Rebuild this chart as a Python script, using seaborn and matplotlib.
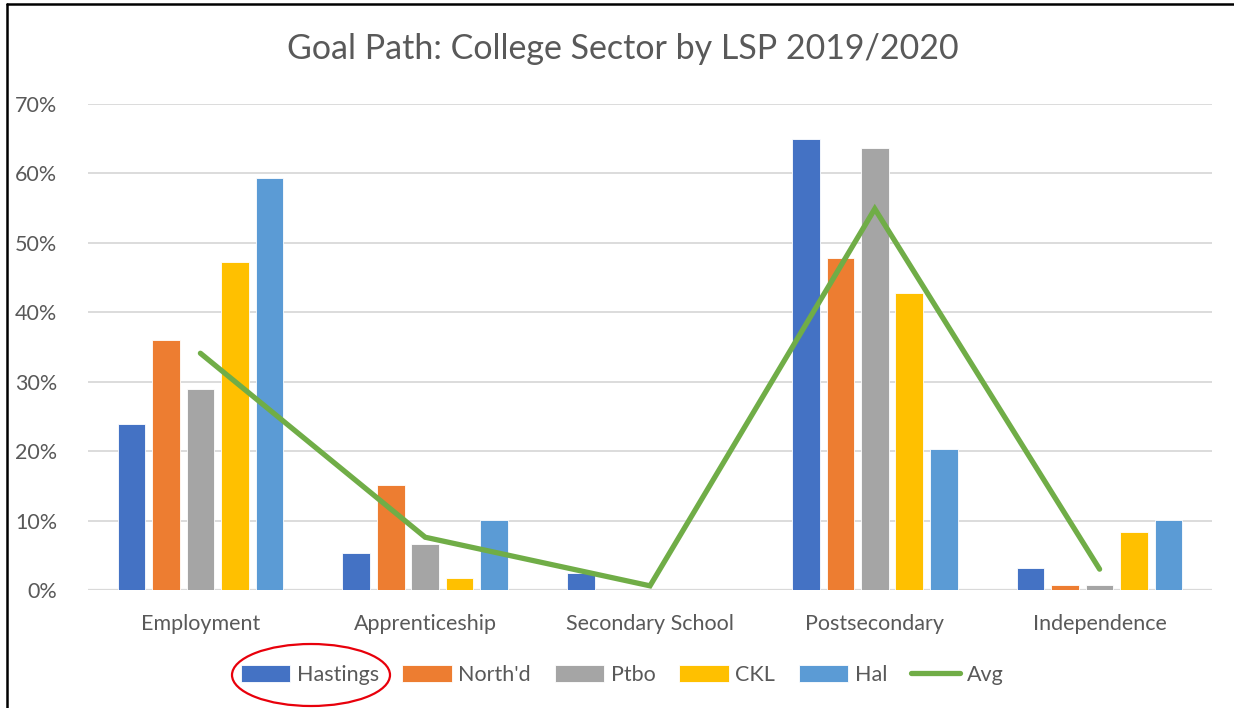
import numpy as np
import pandas as pd
import seaborn as sns
import matplotlib.pyplot as plt
from matplotlib.patches import Ellipse
from matplotlib.lines import Line2D
from matplotlib.ticker import PercentFormatter

categories = ["Employment", "Apprenticeship", "Secondary School", "Postsecondary", "Independence"]
regions = ["Hastings", "North'd", "Ptbo", "CKL", "Hal"]

hastings = [0.239, 0.053, 0.024, 0.650, 0.032]
northd = [0.360, 0.151, 0.0, 0.478, 0.007]
ptbo = [0.290, 0.066, 0.0, 0.637, 0.007]
ckl = [0.473, 0.017, 0.0, 0.428, 0.084]
hal = [0.594, 0.101, 0.0, 0.203, 0.101]
avg = [0.341, 0.076, 0.006, 0.549, 0.030]

colors = ["#4472C4", "#ED7D31", "#A5A5A5", "#FFC000", "#5B9BD5"]
avg_color = "#70AD47"
text_color = "#595959"
grid_color = "#D9D9D9"

sns.set_theme(style="white")
plt.rcParams["font.family"] = ["Lato", "DejaVu Sans"]

df = pd.DataFrame({
    "Goal": categories * len(regions),
    "LSP": np.repeat(regions, len(categories)),
    "Share": hastings + northd + ptbo + ckl + hal,
})
avg_df = pd.DataFrame({"Goal": categories, "Share": avg})

fig = plt.figure(figsize=(12.34, 7.08), dpi=100)
ax = fig.add_axes([88 / 1234, 1 - 590 / 708, (1212 - 88) / 1234, (590 - 104) / 708])

sns.barplot(data=df, x="Goal", y="Share", hue="LSP", order=categories,
            hue_order=regions, palette=colors, saturation=1, width=0.767, gap=0.2,
            edgecolor="white", linewidth=0.6, ax=ax, zorder=2)
sns.lineplot(data=avg_df, x="Goal", y="Share", color=avg_color, linewidth=3.8,
             label="Avg", ax=ax, zorder=3, solid_capstyle="round",
             solid_joinstyle="miter")

ax.set_xlim(-0.5, len(categories) - 0.5)
ax.set_ylim(0, 0.70)
ax.set_yticks(np.arange(0, 0.71, 0.10))
ax.yaxis.set_major_formatter(PercentFormatter(1.0, decimals=0))
ax.grid(axis="y", color=grid_color, linewidth=1.3, zorder=0)
ax.set_axisbelow(True)
for s in ax.spines.values():
    s.set_visible(False)
ax.axhline(0, color=grid_color, linewidth=1.6, zorder=1)
ax.set_xlabel("")
ax.set_ylabel("")
ax.tick_params(axis="both", length=0, labelsize=15.5, colors=text_color)
ax.tick_params(axis="x", pad=17)
ax.tick_params(axis="y", pad=22)

handles, labels = ax.get_legend_handles_labels()
ax.get_legend().remove()
fig.legend(handles, labels, loc="center", bbox_to_anchor=(622 / 1234, 1 - 675 / 708),
           ncol=6, frameon=False, fontsize=15.5, labelcolor=text_color,
           handlelength=2.3, handleheight=0.8, handletextpad=0.3, columnspacing=1.1)

fig.suptitle("Goal Path: College Sector by LSP 2019/2020", x=623 / 1234,
             y=1 - 49 / 708, va="center", fontsize=24.5, color=text_color)

# highlight ring around the first legend entry
fig.add_artist(Ellipse((311 / 1234, 1 - 675 / 708), 158 / 1234, 62 / 708,
                       transform=fig.transFigure, fill=False, edgecolor="#E8000B",
                       linewidth=1.6))
# outer frame lines
fig.add_artist(Line2D([7 / 1234, 7 / 1234], [0, 1 - 4 / 708], transform=fig.transFigure,
                      color="black", linewidth=1.8))
fig.add_artist(Line2D([7 / 1234, 1], [1 - 4 / 708, 1 - 4 / 708], transform=fig.transFigure,
                      color="black", linewidth=1.8))

fig.savefig("out.png", dpi=100, facecolor="white")
